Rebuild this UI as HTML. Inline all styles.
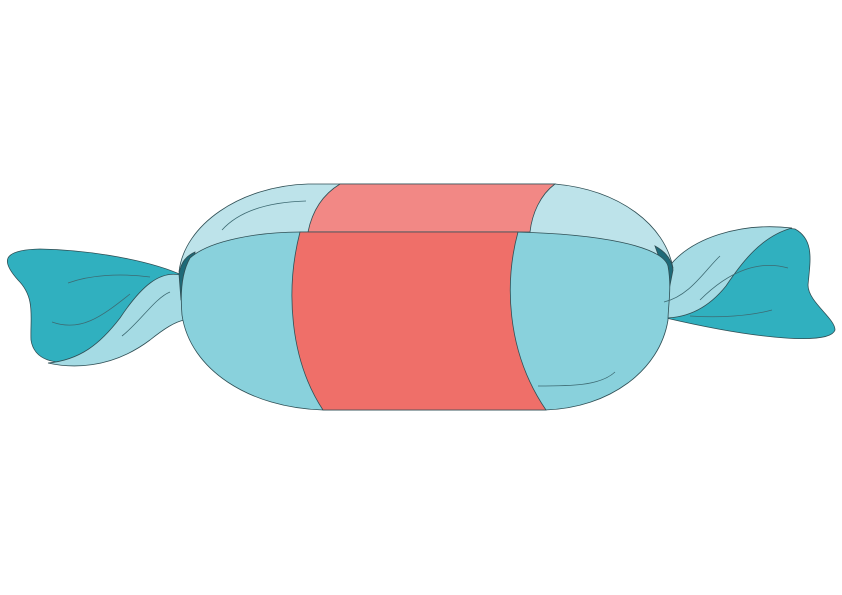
<!DOCTYPE html>
<html><head><meta charset="utf-8"><style>
html,body{margin:0;padding:0;background:#fff;width:842px;height:595px;overflow:hidden}
svg{display:block}
</style></head><body>
<svg width="842" height="595" viewBox="0 0 842 595">
<g stroke="#2f4f55" stroke-width="0.8">
<path fill="#30b0bf" d="M184,276 C150,260 90,250 40,249 C0,250 2,262 18,280 C36,298 30,318 31,340 C34,360 55,366 80,360 C120,350 150,310 184,292 Z"/>
<path fill="#a5dbe4" d="M184,276 C160,268 140,288 120,318 C100,344 80,360 48,363 C70,368 110,370 150,340 C165,328 175,322 184,320 Z"/>
<path fill="#30b0bf" d="M668,268 C700,240 760,224 795,229 C815,240 810,262 808,285 C808,302 835,318 835,330 C830,345 760,340 666,318 Z"/>
<path fill="#a5dbe4" d="M668,268 C690,238 740,222 792,228 C762,236 742,262 726,286 C710,306 690,318 664,318 Z"/>
<path fill="#bde3ea" d="M308,184 L555,184 C620,190 665,225 673,268 L179,272 C184,225 240,186 308,184 Z"/>
<path fill="#1e6a78" d="M179,274 C181,262 186,256 195,252 L190,300 L181,300 Z"/>
<path fill="#1e6a78" d="M655,246 C666,252 672,260 673,270 L669,290 L660,260 Z"/>
<path fill="#f28885" d="M340,184 L555,184 C540,195 532,214 530,232 L308,232 C312,212 322,195 340,184 Z"/>
<path fill="#89d1dc" d="M300,232 L515,232 C600,234 662,246 668,266 C672,288 668,306 668,320 C660,370 610,408 545,410 L323,410 C250,408 190,370 182,315 C180,292 182,272 190,258 C210,240 260,232 300,232 Z"/>
<path fill="#ef6f69" d="M300,232 L518,232 C505,280 505,350 546,410 L323,410 C290,360 285,290 300,232 Z"/>
</g>
<g fill="none" stroke="#3d6a72" stroke-width="0.8">
<path d="M222,230 C240,210 270,202 306,201"/>
<path d="M538,386 C570,386 600,386 615,372"/>
<path d="M68,283 C90,275 120,273 150,277"/>
<path d="M52,322 C80,332 100,318 130,294"/>
<path d="M122,336 C140,322 155,298 170,292"/>
<path d="M664,302 C690,296 705,270 720,256"/>
<path d="M700,300 C730,270 760,260 788,268"/>
<path d="M690,316 C720,318 750,316 772,310"/>
</g>
</svg>
</body></html>
